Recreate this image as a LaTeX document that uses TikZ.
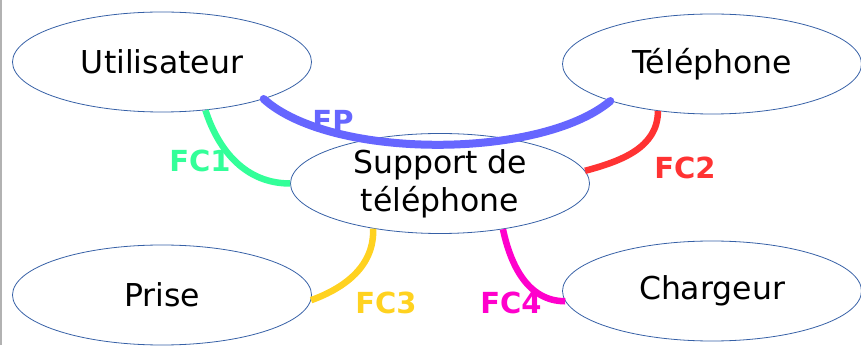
\documentclass[tikz,border=0pt]{standalone}
\usepackage{fontspec}
\setmainfont{DejaVu Sans}
\usetikzlibrary{shapes.geometric}
\definecolor{rim}{RGB}{54,96,166}
\definecolor{fpblue}{RGB}{102,102,255}
\definecolor{fcgreen}{RGB}{51,255,153}
\definecolor{fcred}{RGB}{255,51,51}
\definecolor{fcyellow}{RGB}{255,210,32}
\definecolor{fcpink}{RGB}{255,0,204}

\begin{document}
\begin{tikzpicture}[x = 1pt, y = 1pt, actor/.style = {draw = rim, line width = 0.8pt, ellipse, inner sep = 0pt, minimum width = 299pt, minimum height = 100pt, align = center, font = \fontsize{31.5}{38}\selectfont}, fn/.style = {inner sep = 0pt, font = \fontsize{29}{34}\selectfont\bfseries}, link/.style = {line width = 6.5pt}]
\useasboundingbox (0,0) rectangle (861,345);
\draw[black!30, line width = 2pt] (1,0) -- (1,345);

\node[actor] (U) at (162,283) {Utilisateur};
\node[actor] (T) at (712,281) {Téléphone};
\node[actor] (S) at (440,161.5) {Support de\\téléphone};
\node[actor] (P) at (162,50) {Prise};
\node[actor] (C) at (712,54) {Chargeur};

\node[fn, text = fpblue] (FP) at (333,224) {FP};
\node[fn, text = fcgreen] (FC1) at (200,184) {FC1};
\node[fn, text = fcred] (FC2) at (685,177) {FC2};
\node[fn, text = fcyellow] (FC3) at (386,42) {FC3};
\node[fn, text = fcpink] (FC4) at (511,42) {FC4};

\path (U.-20) edge[link, fpblue, line width = 8pt, line cap = round, out = -42, in = -140, distance = 91pt] (T.-160);
\path (U.-48) edge[link, fcgreen, out = -72, in = 180] (S.west);
\path (T.-139) edge[link, fcred, out = -90, in = 15] (S.5);
\path (S.-146) edge[link, fcyellow, out = -88, in = 20] (P.-2);
\path (S.-36) edge[link, fcpink, out = -78, in = 180] (C.184);
\end{tikzpicture}
\end{document}
